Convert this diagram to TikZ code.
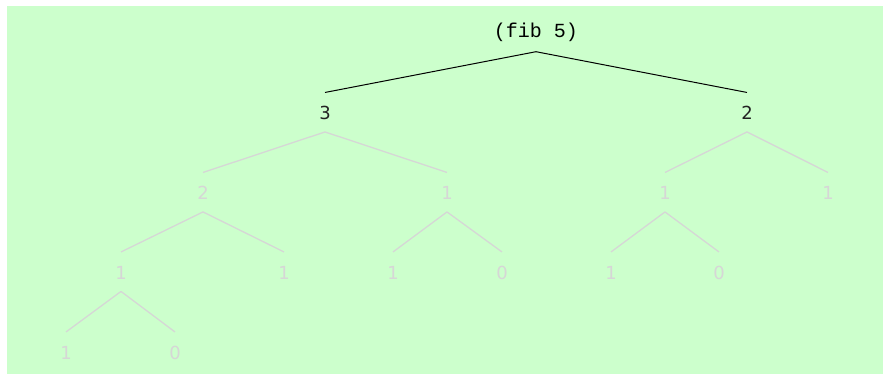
\documentclass[tikz,border=0pt]{standalone}
\usepackage{fontspec}
\setmainfont{DejaVu Sans}
\newfontfamily\monofont{Liberation Mono}
\definecolor{bg}{HTML}{CCFFCC}
\definecolor{faint}{HTML}{D6D6D6}
\definecolor{darktext}{HTML}{222222}
\begin{document}
\begin{tikzpicture}[x=0.75pt,y=-0.75pt,
  num/.style={inner sep=0pt, font=\fontsize{13.5}{16}\selectfont, text=faint},
  hot/.style={text=darktext},
  title/.style={inner sep=0pt, font=\monofont\fontsize{15}{18}\selectfont, text=black},
  faintedge/.style={draw=faint, line width=0.95pt},
  hotedge/.style={draw=black, line width=0.75pt}]
\useasboundingbox (0,0) rectangle (883,374);
\fill[white] (0,0) rectangle (883,374);
\fill[bg] (7,6) rectangle (883,374);

\node[title] (r) at (536,32.5) {(fib 5)};
\node[num,hot] (a) at (325,113) {3};
\node[num,hot] (b) at (747,113) {2};
\node[num] (aa) at (203,193) {2};
\node[num] (ab) at (447,193) {1};
\node[num] (ba) at (665,193) {1};
\node[num] (bb) at (828,193) {1};
\node[num] (aaa) at (121,272.5) {1};
\node[num] (aab) at (284,272.5) {1};
\node[num] (aba) at (393,272.5) {1};
\node[num] (abb) at (502,272.5) {0};
\node[num] (baa) at (611,272.5) {1};
\node[num] (bab) at (719,272.5) {0};
\node[num] (aaaa) at (66,352.5) {1};
\node[num] (aaab) at (175,352.5) {0};

\draw[hotedge] ([yshift=-14.4pt]r.center) -- ([yshift=15.4pt]a.center);
\draw[hotedge] ([yshift=-14.4pt]r.center) -- ([yshift=15.4pt]b.center);
\draw[faintedge] ([yshift=-14.2pt]a.center) -- ([yshift=15.4pt]aa.center);
\draw[faintedge] ([yshift=-14.2pt]a.center) -- ([yshift=15.4pt]ab.center);
\draw[faintedge] ([yshift=-14.2pt]b.center) -- ([yshift=15.4pt]ba.center);
\draw[faintedge] ([yshift=-14.2pt]b.center) -- ([yshift=15.4pt]bb.center);
\draw[faintedge] ([yshift=-14.2pt]aa.center) -- ([yshift=15.4pt]aaa.center);
\draw[faintedge] ([yshift=-14.2pt]aa.center) -- ([yshift=15.4pt]aab.center);
\draw[faintedge] ([yshift=-14.2pt]ab.center) -- ([yshift=15.4pt]aba.center);
\draw[faintedge] ([yshift=-14.2pt]ab.center) -- ([yshift=15.4pt]abb.center);
\draw[faintedge] ([yshift=-14.2pt]ba.center) -- ([yshift=15.4pt]baa.center);
\draw[faintedge] ([yshift=-14.2pt]ba.center) -- ([yshift=15.4pt]bab.center);
\draw[faintedge] ([yshift=-14.2pt]aaa.center) -- ([yshift=15.4pt]aaaa.center);
\draw[faintedge] ([yshift=-14.2pt]aaa.center) -- ([yshift=15.4pt]aaab.center);
\end{tikzpicture}
\end{document}
